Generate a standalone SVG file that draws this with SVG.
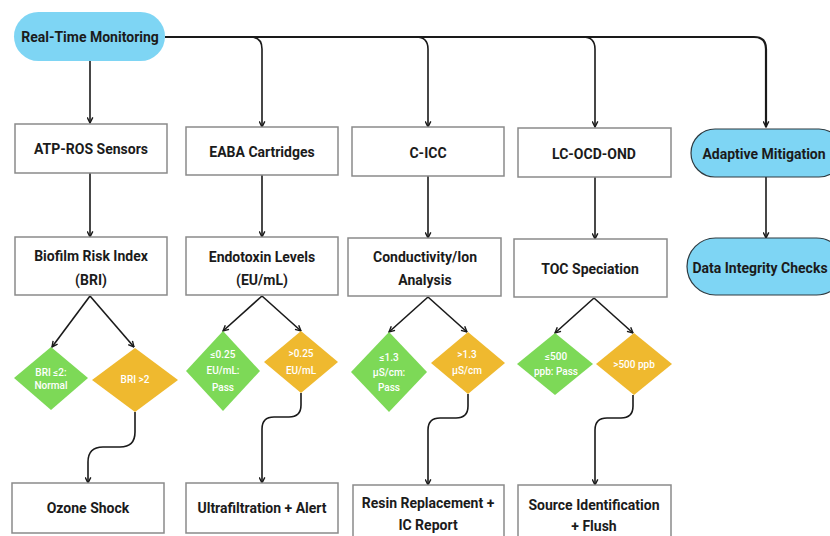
<svg xmlns="http://www.w3.org/2000/svg" width="830" height="536" viewBox="0 0 830 536">
<defs>
<marker id="ah" viewBox="0 0 10 10" refX="9" refY="5" markerWidth="7" markerHeight="7" orient="auto" markerUnits="userSpaceOnUse">
<path d="M1,1 L9,5 L1,9" fill="none" stroke="#1a1a1a" stroke-width="2"/>
</marker>
<style>
.box{fill:#fff;stroke:#8a8a8a;stroke-width:1.5}
.pill{fill:#7ed5f4;stroke:#2e3a40;stroke-width:1.2}
.pill0{fill:#7ed5f4}
.t{font-family:Roboto,"Noto Sans",sans-serif;font-weight:700;font-size:14px;fill:#1b1b1b;text-anchor:middle}
.d{font-family:Roboto,"Noto Sans",sans-serif;font-weight:500;font-size:10px;fill:#fff;text-anchor:middle}
.g{fill:#7dd957}
.o{fill:#efb92f}
.c{fill:none;stroke:#1a1a1a;stroke-width:1.6;marker-end:url(#ah)}
.c0{fill:none;stroke:#1a1a1a;stroke-width:2.2}
</style>
</defs>
<g id="connectors">
<path class="c0" d="M165,37 H754 Q766,37 766,49 V127" style="marker-end:url(#ah)"/>
<path class="c" d="M250,37 Q262,37 262,49 V127"/>
<path class="c" d="M416,37 Q428,37 428,49 V127"/>
<path class="c" d="M583,37 Q595,37 595,49 V127"/>
<path class="c" d="M90,61 V123"/>
<path class="c" d="M90,173 V237"/>
<path class="c" d="M262,175 V237"/>
<path class="c" d="M428,176 V238"/>
<path class="c" d="M595,177 V239"/>
<path class="c" d="M766,177 V238"/>
<path class="c" d="M90,296 L52,347"/>
<path class="c" d="M90,296 L134,347"/>
<path class="c" d="M262,296 L223,331"/>
<path class="c" d="M262,296 L301,331"/>
<path class="c" d="M428,297 L389,332"/>
<path class="c" d="M428,297 L467,332"/>
<path class="c" d="M594,298 L555,333"/>
<path class="c" d="M594,298 L633,333"/>
<path class="c" d="M135,412 V432 Q135,447 120,447 H103 Q88,447 88,462 V483"/>
<path class="c" d="M301,393 V405 Q301,417 289,417 H274 Q262,417 262,429 V483"/>
<path class="c" d="M468,394 V406 Q468,418 456,418 H440 Q428,418 428,430 V485"/>
<path class="c" d="M633,395 V406 Q633,418 621,418 H607 Q595,418 595,430 V485"/>
</g>
<g id="n-rtm"><rect class="pill0" x="14" y="12" width="151" height="49" rx="24.5"/><text class="t" x="90" y="42">Real-Time Monitoring</text></g>
<g id="n-atp"><rect class="box" x="15" y="124" width="152" height="49"/><text class="t" x="91" y="154">ATP-ROS Sensors</text></g>
<g id="n-eaba"><rect class="box" x="186" y="127" width="152" height="48"/><text class="t" x="262" y="157">EABA Cartridges</text></g>
<g id="n-cicc"><rect class="box" x="352" y="127" width="152" height="49"/><text class="t" x="428" y="158">C-ICC</text></g>
<g id="n-lc"><rect class="box" x="518" y="128" width="153" height="49"/><text class="t" x="594" y="159">LC-OCD-OND</text></g>
<g id="n-am"><rect class="pill" x="691" y="129" width="152" height="48" rx="24"/><text class="t" x="764" y="159">Adaptive Mitigation</text></g>
<g id="n-bri"><rect class="box" x="15" y="237" width="152" height="58"/><text class="t" x="91" y="261">Biofilm Risk Index</text><text class="t" x="91" y="285">(BRI)</text></g>
<g id="n-endo"><rect class="box" x="186" y="237" width="152" height="58"/><text class="t" x="262" y="262">Endotoxin Levels</text><text class="t" x="262" y="285">(EU/mL)</text></g>
<g id="n-cond"><rect class="box" x="348" y="238" width="153" height="58"/><text class="t" x="425" y="262">Conductivity/Ion</text><text class="t" x="425" y="285">Analysis</text></g>
<g id="n-toc"><rect class="box" x="514" y="239" width="153" height="58"/><text class="t" x="590" y="274">TOC Speciation</text></g>
<g id="n-dic"><rect class="pill" x="687" y="238" width="158" height="57" rx="28.5"/><text class="t" x="760" y="273">Data Integrity Checks</text></g>
<g id="n-d1"><polygon class="g" points="51,347 88,378 51,410 14,378"/><text class="d" x="51" y="376">BRI ≤2:</text><text class="d" x="51" y="389">Normal</text></g>
<g id="n-d2"><polygon class="o" points="135,348 178,380 135,412 92,380"/><text class="d" x="135" y="383">BRI &gt;2</text></g>
<g id="n-d3"><polygon class="g" points="223,331 260,371 223,411 186,371"/><text class="d" x="223" y="358">≤0.25</text><text class="d" x="223" y="374">EU/mL:</text><text class="d" x="223" y="391">Pass</text></g>
<g id="n-d4"><polygon class="o" points="301,331 338,362 301,393 264,362"/><text class="d" x="301" y="357">&gt;0.25</text><text class="d" x="301" y="374">EU/mL</text></g>
<g id="n-d5"><polygon class="g" points="389,332 427,372 389,412 351,372"/><text class="d" x="389" y="361">≤1.3</text><text class="d" x="389" y="376">µS/cm:</text><text class="d" x="389" y="391">Pass</text></g>
<g id="n-d6"><polygon class="o" points="468,332 505,363 468,394 431,363"/><text class="d" x="467" y="358">&gt;1.3</text><text class="d" x="467" y="374">µS/cm</text></g>
<g id="n-d7"><polygon class="g" points="555,333 593,364 555,395 517,364"/><text class="d" x="556" y="360">≤500</text><text class="d" x="556" y="375">ppb: Pass</text></g>
<g id="n-d8"><polygon class="o" points="634,333 672,364 634,395 596,364"/><text class="d" x="634" y="368">&gt;500 ppb</text></g>
<g id="n-oz"><rect class="box" x="12" y="483" width="152" height="50"/><text class="t" x="88" y="513">Ozone Shock</text></g>
<g id="n-uf"><rect class="box" x="186" y="483" width="152" height="50"/><text class="t" x="262" y="513">Ultrafiltration + Alert</text></g>
<g id="n-resin"><rect class="box" x="353" y="485" width="151" height="56"/><text class="t" x="428" y="508">Resin Replacement +</text><text class="t" x="428" y="530">IC Report</text></g>
<g id="n-src"><rect class="box" x="518" y="485" width="153" height="56"/><text class="t" x="594" y="510">Source Identification</text><text class="t" x="594" y="531">+ Flush</text></g>
</svg>
